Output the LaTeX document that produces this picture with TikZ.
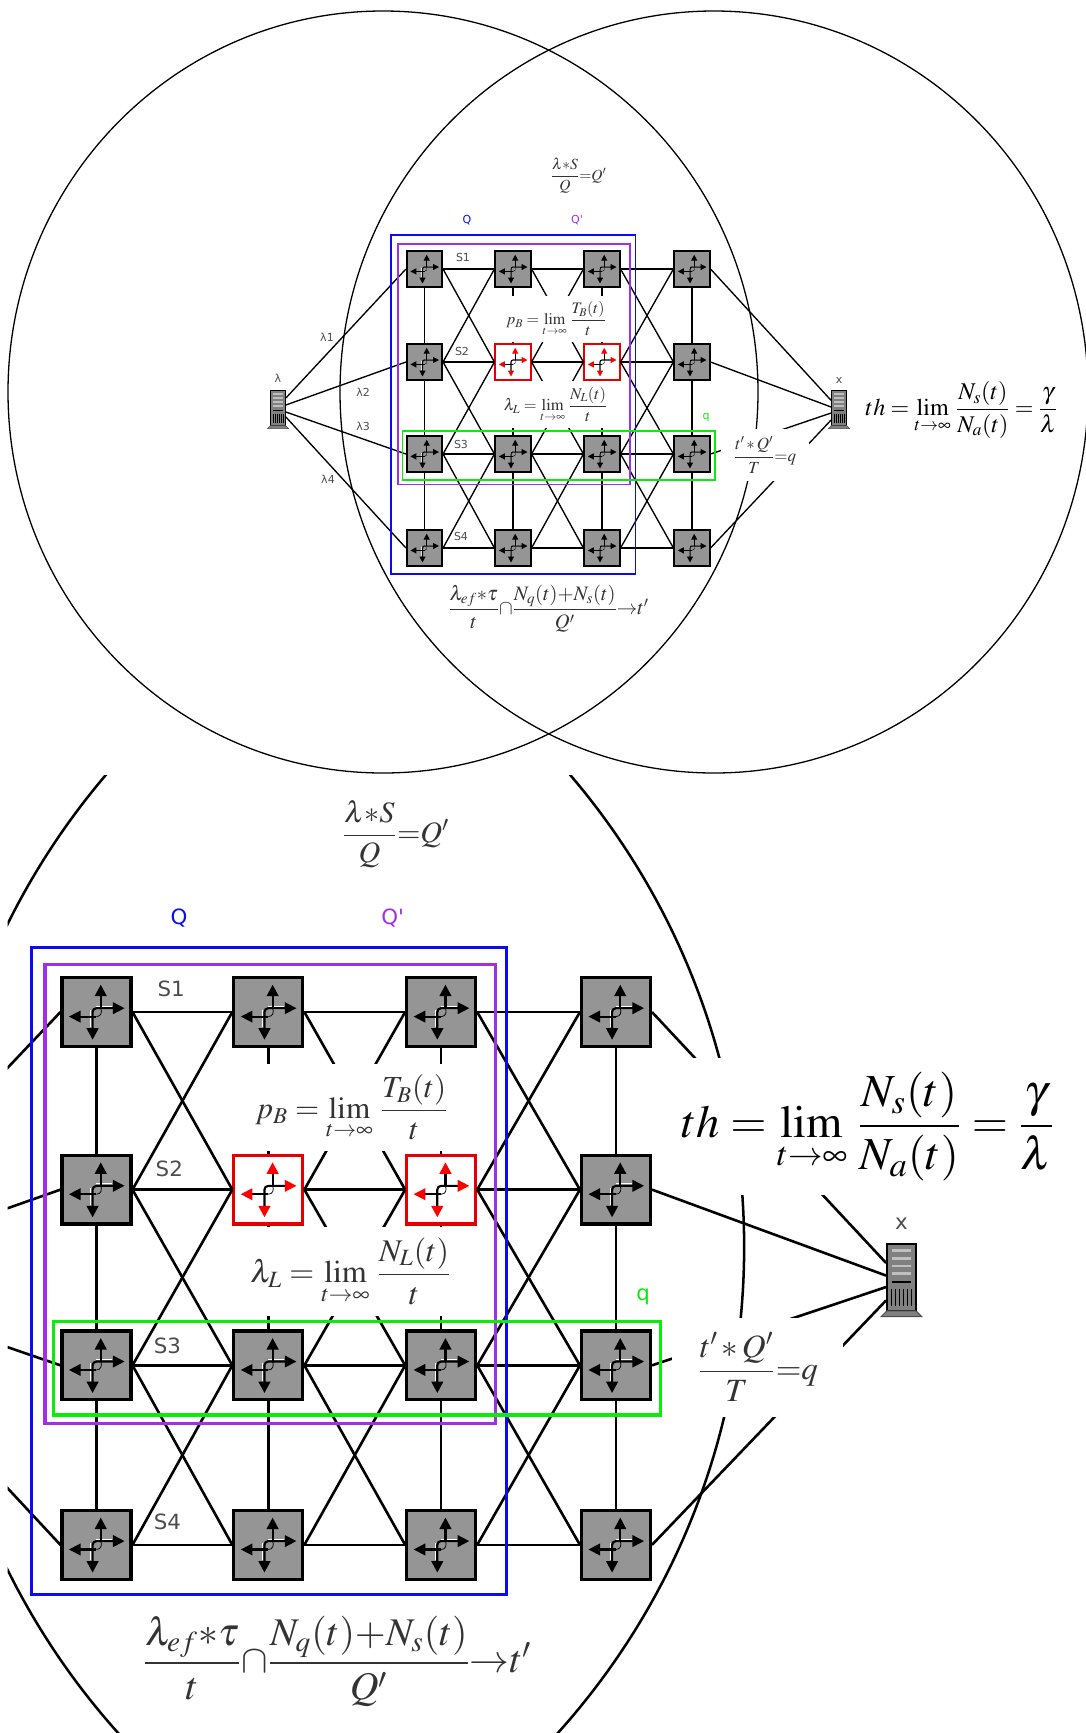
\documentclass[tikz,border=0pt]{standalone}
\usepackage{xcolor}
\usepackage{amsmath}
\usepackage{mathptmx}
\usepackage{fontspec}
\usepackage{tikz}
\usetikzlibrary{arrows.meta}
\newfontfamily\tagfont{DejaVu Sans}
\definecolor{routergray}{HTML}{959595}
\definecolor{qblue}{HTML}{0A0AF5}
\definecolor{qpurple}{HTML}{A030E6}
\definecolor{qgreen}{HTML}{0CEB0C}
\tikzset{
	ring/.style={line width=1.3pt},
	link/.style={line width=1.35pt},
	router/.style={draw=black, fill=routergray, line width=1.6pt, minimum width=35.5pt, minimum height=36pt, inner sep=0pt},
	redrouter/.style={draw=red!90!black, fill=white, line width=1.6pt, minimum width=35.5pt, minimum height=36pt, inner sep=0pt},
	srv/.style={draw=black, fill=gray, line width=.8pt, minimum width=15pt, minimum height=35pt, inner sep=0pt},
	tag/.style={text=black!70, font=\tagfont\fontsize{11}{12}\selectfont, inner sep=0pt},
	formula/.style={fill=white, inner sep=0pt, text=black!80, font=\fontsize{#1}{#1}\selectfont},
}
\newcommand{\serverbox}[3]{
	\node[srv] (#1) at (#2,#3) {};
	\begin{scope}[shift={(#2,#3)}]
		\fill[gray, draw=black!70, line width=.5pt] (-7.5,17.5) -- (7.5,17.5) -- (10.5,20.5) -- (-10.5,20.5) -- cycle;
		\foreach \s in {-14,-10,-6,-2}
		\draw[black!25, line width=1.5pt] (-5,\s) -- (5,\s);
		\foreach \s in {-5,-3,-1,1,3,5}
		\draw[black, line width=.5pt] (\s,6) -- (\s,15);
		\draw[black, line width=1pt] (-5,2.5) -- (5,2.5);
	\end{scope}
}
\newcommand{\netscene}[1]{
	\draw[ring] (383,392) ellipse (375 and 381);
	\draw[ring] (714,392) ellipse (374 and 381);
	
	\foreach \r/\yy in {1/269,2/362,3/454,4/548}
	\foreach \c/\xx in {1/424.5,2/513,3/602,4/692}{
		\def\boxst{router}\def\tipcol{black}
		\ifnum\r=2 \ifnum\c>1 \ifnum\c<4 \def\boxst{redrouter}\def\tipcol{red}\fi\fi\fi
		\node[\boxst] (n\r\c) at (\xx,\yy) {};
		\begin{scope}[shift={(\xx,\yy)}, line width=1.1pt, >={Stealth[length=6pt, width=6pt, inset=0pt, color=\tipcol]}]
			\draw[white, line width=.5pt] (-2.9,8) -- (-2.9,-1) (0,-3) -- (8,-3);
			\draw[rounded corners=2pt, <->] (-2,14.5) -- (-2,-2) -- (14.5,-2);
			\draw[->] (2.2,-2) -- (2.2,-14.3);
			\draw[->] (0,2.4) -- (-14.2,2.4);
			\draw[line width=.4pt] (0,2.4) .. controls (2.4,2.4) and (3,0) .. (2.2,-2);
		\end{scope}
	}
	
	\serverbox{srvl}{278}{408}
	\serverbox{srvr}{839}{408}
	
	\foreach \r in {1,2,3,4}
	\foreach \c/\d in {1/2,2/3,3/4}
	\draw[link] (n\r\c.east) -- (n\r\d.west);
	
	\foreach \r/\s in {1/2,2/3,3/4}
	\foreach \c in {1,2,3,4}
	\draw[link] (n\r\c.south) -- (n\s\c.north);
	
	\foreach \r/\s in {1/2,2/3,3/4}
	\foreach \c/\d in {1/2,2/3,3/4}{
		\draw[link] (n\r\c.east) -- (n\s\d.west);
		\draw[link] (n\s\c.east) -- (n\r\d.west);
	}
	
	\foreach \r/\a/\b in {1/10/7.6,2/3/1,3/-4/-5,4/-9/-12}{
		\draw[link] ([yshift=\a pt]srvl.east) -- (n\r1.west);
		\draw[link] (n\r4.east) -- ([yshift=\b pt]srvr.west);
	}
	
	\draw[qblue, line width=1.6pt] (391,235) rectangle (635.5,574);
	\draw[qpurple, line width=1.6pt] (398,244) rectangle (630,484.5);
	\draw[qgreen, line width=1.6pt] (402.5,431) rectangle (715,480);
	
	\node[tag, text=qblue] (lq) at (467,220) {Q};
	\node[tag, text=qpurple] (lqp) at (577,220) {Q'};
	\node[tag, text=qgreen] (lqs) at (706,418) {q};
	\node[tag] (ls1) at (463,257) {S1};
	\node[tag] (ls2) at (462,351) {S2};
	\node[tag] (ls3) at (461,444) {S3};
	\node[tag] (ls4) at (461,536) {S4};
	\node[tag] (lx) at (839,380) {x};
	
	\node[formula=15.5, minimum width=69pt, minimum height=41pt] (fqp) at (578.5,176) {$\dfrac{\lambda{*}S}{Q}{=}Q'$};
	\node[formula=16, minimum width=110pt, minimum height=46pt] (fpb) at (556,319) {$p_B=\lim\limits_{t\to\infty}\,\dfrac{T_B(t)}{t}$};
	\node[formula=16.5, minimum width=115pt, minimum height=46.5pt] (fll) at (555.5,404.7) {$\lambda_L=\lim\limits_{t\to\infty}\,\dfrac{N_L(t)}{t}$};
	\node[formula=17, minimum width=88pt, minimum height=52pt] (ftq) at (765,455) {$\dfrac{t'\,{*}\,Q'}{T}{=}q$};
	\node[formula=20.5, minimum width=217pt, minimum height=58pt] (ftp) at (548.5,609) {$\dfrac{\lambda_{ef}{*}\tau}{t}{\cap}\dfrac{N_q(t){+}N_s(t)}{Q'}{\rightarrow}t'$};
	\node[formula=24, text=black, minimum width=204pt, minimum height=72pt] (fth) at (#1) {$th=\lim\limits_{t\to\infty}\,\dfrac{N_s(t)}{N_a(t)}=\dfrac{\gamma}{\lambda}$};
}

\begin{document}
\begin{tikzpicture}[x=1pt, y=-1pt]
	\useasboundingbox (0,0) rectangle (1086,1733);
	
	\begin{scope}[name prefix=top-]
		\netscene{961.5,410}
		\node[tag] (ll) at (278,378) {λ};
		\node[tag] (ll1) at (327,337) {λ1};
		\node[tag] (ll2) at (363,392) {λ2};
		\node[tag] (ll3) at (363,426) {λ3};
		\node[tag] (ll4) at (328,479) {λ4};
	\end{scope}
	
	\begin{scope}
		\clip (7.5,775) rectangle (1086,1733);
		\begin{scope}[name prefix=big-, transform canvas={shift={(-727.9,498.2)}, xscale=1.942, yscale=1.91}]
			\netscene{821.8,329}
		\end{scope}
	\end{scope}
\end{tikzpicture}
\end{document}
